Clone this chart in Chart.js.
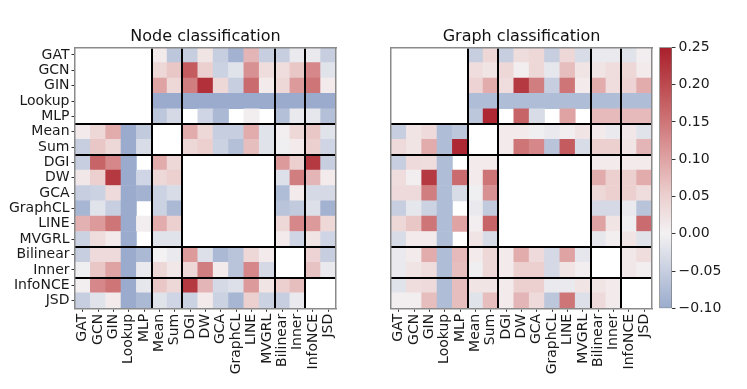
<!DOCTYPE html>
<html><head><meta charset="utf-8">
<script src="https://cdn.jsdelivr.net/npm/chart.js@4.4.0/dist/chart.umd.min.js"></script>
<style>
html,body{margin:0;padding:0;background:#fff;}
#wrap{position:relative;width:747px;height:389px;overflow:hidden;}
canvas{position:absolute;left:0;top:0;}
</style></head><body>
<div id="wrap">
<canvas id="c1" width="747" height="389"></canvas>
<canvas id="c2" width="747" height="389"></canvas>
<canvas id="c3" width="747" height="389"></canvas>
</div>
<script>
// ---------- data ----------
const labels = ['GAT','GCN','GIN','Lookup','MLP','Mean','Sum','DGI','DW','GCA','GraphCL','LINE','MVGRL','Bilinear','Inner','InfoNCE','JSD'];
const groupSizes = [5, 2, 6, 2, 2];
const titles = ['Node classification', 'Graph classification'];
const colorbarTicks = [-0.10, -0.05, 0.00, 0.05, 0.10, 0.15, 0.20, 0.25];
const n = null;

const nodeValues = [
  [n,n,n,n,n, 0.01,-0.06, -0.05,0.02,-0.05,-0.09,0.08,-0.05, -0.05,-0.01, -0.01,-0.05],
  [n,n,n,n,n, 0.04,0.06, 0.18,0.05,-0.045,-0.02,0.12,0.03, 0.03,0.06, 0.13,-0.02],
  [n,n,n,n,n, 0.10,0.04, 0.14,0.23,0.04,-0.05,0.16,0.01, 0.04,0.11, 0.15,0.01],
  [n,n,n,n,n, -0.10,-0.10, -0.10,-0.10,-0.10,-0.10,-0.10,-0.10, -0.10,-0.10, -0.10,-0.10],
  [n,n,n,n,n, -0.06,-0.035, n,-0.04,-0.08,n,0.005,n, -0.07,-0.01, -0.015,-0.07],
  [0.01,0.04,0.09,-0.10,-0.055, n,n, 0.09,0.04,-0.05,-0.05,0.09,-0.02, 0.005,0.04, 0.06,-0.02],
  [-0.05,0.06,0.04,-0.10,-0.03, n,n, 0.04,0.05,-0.045,-0.07,0.07,-0.02, -0.005,0.01, 0.05,-0.04],
  [-0.05,0.17,0.13,-0.10,n, 0.09,0.04, n,n,n,n,n,n, 0.11,0.05, 0.22,-0.05],
  [0.015,0.05,0.22,-0.10,-0.04, 0.04,0.05, n,n,n,n,n,n, -0.025,0.14, 0.08,0.01],
  [-0.05,-0.045,0.035,-0.10,-0.09, -0.045,-0.03, n,n,n,n,n,n, -0.075,0.01, -0.035,-0.035],
  [-0.085,-0.02,-0.05,-0.10,n, -0.045,-0.08, n,n,n,n,n,n, -0.065,-0.055, -0.025,-0.09],
  [0.085,0.11,0.15,-0.10,0.005, 0.09,0.05, n,n,n,n,n,n, 0.04,0.13, 0.11,0.04],
  [-0.045,0.03,0.01,-0.10,n, -0.02,-0.02, n,n,n,n,n,n, 0.01,-0.04, 0.02,-0.04],
  [-0.05,0.035,0.035,-0.10,-0.08, 0.0,-0.01, 0.11,-0.025,-0.08,-0.065,0.04,0.01, n,n, 0.045,-0.05],
  [-0.005,0.06,0.10,-0.10,-0.01, 0.04,0.015, 0.04,0.14,0.01,-0.065,0.13,-0.035, n,n, 0.065,-0.01],
  [0.005,0.13,0.15,-0.10,-0.015, 0.06,0.04, 0.22,0.08,-0.035,-0.025,0.11,0.02, 0.05,0.07, n,n],
  [-0.05,-0.02,0.01,-0.10,-0.08, -0.02,-0.04, -0.045,0.01,-0.045,-0.085,0.05,-0.045, -0.05,-0.01, n,n]
];

const graphValues = [
  [n,n,n,n,n, -0.05,0.04, -0.05,0.03,0.04,-0.05,0.04,-0.03, -0.01,-0.01, -0.02,0.005],
  [n,n,n,n,n, 0.03,0.02, 0.04,0.005,0.04,-0.015,0.07,0.02, 0.02,0.03, 0.04,0.01],
  [n,n,n,n,n, 0.045,0.09, 0.03,0.22,0.14,-0.05,0.15,0.01, 0.09,0.03, 0.045,0.09],
  [n,n,n,n,n, -0.075,-0.075, -0.075,-0.075,-0.075,-0.075,-0.075,-0.075, -0.075,-0.075, -0.075,-0.075],
  [n,n,n,n,n, -0.06,0.24, n,0.17,-0.03,n,0.10,n, 0.075,0.075, 0.075,0.075],
  [-0.05,0.02,0.035,-0.075,-0.06, n,n, 0.01,0.01,-0.005,-0.01,0.005,0.02, 0.01,-0.01, 0.015,-0.02],
  [0.035,0.02,0.09,-0.075,0.24, n,n, 0.01,0.15,0.13,-0.065,0.18,-0.03, 0.05,0.05, 0.02,0.08],
  [-0.05,0.035,0.03,-0.075,n, 0.01,0.01, n,n,n,n,n,n, 0.01,0.01, 0.01,0.01],
  [0.03,0.005,0.22,-0.075,0.16, 0.01,0.15, n,n,n,n,n,n, 0.09,0.05, 0.05,0.09],
  [0.035,0.035,0.14,-0.075,-0.03, -0.005,0.12, n,n,n,n,n,n, 0.04,0.05, 0.05,0.03],
  [-0.05,-0.015,-0.045,-0.075,n, -0.01,-0.055, n,n,n,n,n,n, -0.035,-0.035, -0.01,-0.065],
  [0.04,0.06,0.15,-0.075,0.10, 0.005,0.17, n,n,n,n,n,n, 0.10,0.02, -0.005,0.16],
  [-0.03,0.01,0.01,-0.075,n, 0.02,-0.03, n,n,n,n,n,n, -0.015,0.005, 0.02,-0.02],
  [-0.01,0.01,0.09,-0.075,0.075, 0.01,0.04, 0.01,0.09,0.035,-0.035,0.10,-0.015, n,n, 0.015,0.03],
  [-0.01,0.02,0.03,-0.075,0.07, -0.005,0.04, 0.01,0.05,0.05,-0.035,0.02,0.005, n,n, 0.015,0.005],
  [-0.02,0.03,0.035,-0.075,0.07, 0.02,0.02, 0.01,0.05,0.05,-0.01,-0.01,0.02, 0.02,0.01, n,n],
  [0.005,0.005,0.07,-0.075,0.07, -0.02,0.07, 0.01,0.08,0.035,-0.06,0.15,-0.025, 0.035,0.01, n,n]
];

// ---------- colormap (vlag-like, centred at 0) ----------
const cmapStops = [-0.10, -0.05, 0.00, 0.05, 0.10, 0.15, 0.20, 0.25];
const cmapColors = [[154,171,205],[198,206,224],[243,241,242],[236,208,208],[223,163,164],[206,117,119],[188,74,79],[169,31,44]];
function colorFor(v) {
  if (v <= cmapStops[0]) return 'rgb(' + cmapColors[0].join(',') + ')';
  const last = cmapStops.length - 1;
  if (v >= cmapStops[last]) return 'rgb(' + cmapColors[last].join(',') + ')';
  let i = 0;
  while (v > cmapStops[i + 1]) i++;
  const t = (v - cmapStops[i]) / (cmapStops[i + 1] - cmapStops[i]);
  const a = cmapColors[i], b = cmapColors[i + 1];
  const c = a.map((x, k) => Math.round(x + (b[k] - x) * t));
  return 'rgb(' + c.join(',') + ')';
}

// ---------- helpers ----------
Chart.defaults.font.family = "'DejaVu Sans', sans-serif";
Chart.defaults.font.size = 14;
Chart.defaults.color = '#1a1a1a';
Chart.defaults.animation = false;

const FRAME = '#8a8a8a';
const TICK = '#333333';
const boundaryIdx = [];
(function () { let acc = 0; groupSizes.slice(0, -1).forEach(s => { acc += s; boundaryIdx.push(acc); }); })();
const lastIdx = labels.length - 1;
const blockLine = ctx => boundaryIdx.includes(ctx.index) ? '#000000' : 'rgba(0,0,0,0)';

function cellData(matrix) {
  const out = [];
  matrix.forEach((row, r) => row.forEach((v, c) => {
    if (v !== null) out.push({ x: labels[c], y: [r - 0.5, r + 0.5], v: v });
  }));
  return out;
}

function heatmap(id, matrix, title, padLeft, padRight, showY) {
  return new Chart(document.getElementById(id), {
    type: 'bar',
    data: {
      labels: labels,
      datasets: [{
        data: cellData(matrix),
        backgroundColor: c => (c.raw && c.raw.v !== undefined) ? colorFor(c.raw.v) : 'rgba(0,0,0,0)',
        borderWidth: 0,
        barPercentage: 1,
        categoryPercentage: 1,
        grouped: false
      }]
    },
    options: {
      responsive: false,
      animation: false,
      events: [],
      layout: { padding: { left: padLeft, right: padRight, top: 0, bottom: 0 } },
      plugins: {
        legend: { display: false },
        tooltip: { enabled: false },
        title: {
          display: true, text: title, fullSize: false,
          font: { size: 16, weight: 'normal' }, color: '#111',
          padding: { top: 27.4, bottom: 0.7 }
        }
      },
      scales: {
        x: {
          type: 'category', position: 'bottom', offset: true,
          grid: { display: true, offset: false, drawOnChartArea: false, drawTicks: true, tickLength: 3.5, tickColor: TICK, tickWidth: 1 },
          border: { display: true, color: FRAME, width: 1.5, z: 2 },
          ticks: { autoSkip: false, maxRotation: 90, minRotation: 90, padding: 2 },
          afterFit: s => { s.height = 80.7; }
        },
        y: {
          type: 'linear', position: 'left', reverse: true, min: -0.5, max: lastIdx + 0.5,
          afterBuildTicks: s => { s.ticks = labels.map((_, i) => ({ value: i })); },
          ticks: { display: showY, autoSkip: false, callback: v => labels[v], padding: 2 },
          grid: { display: true, drawOnChartArea: false, drawTicks: showY, tickLength: 3.5, tickColor: TICK, tickWidth: 1 },
          border: { display: true, color: FRAME, width: 1.5, z: 2 },
          afterFit: s => { s.width = showY ? 75 : 0; }
        },
        xb: {
          type: 'category', position: 'top', offset: true,
          ticks: { display: false, autoSkip: false },
          grid: { offset: true, color: blockLine, lineWidth: 2, drawTicks: false, z: 1 },
          border: { display: true, color: FRAME, width: 1.5, z: 2 },
          afterFit: s => { s.height = 0; }
        },
        yb: {
          type: 'category', position: 'right', offset: true,
          ticks: { display: false, autoSkip: false },
          grid: { offset: true, color: blockLine, lineWidth: 2, drawTicks: false, z: 1 },
          border: { display: true, color: FRAME, width: 1.5, z: 2 },
          afterFit: s => { s.width = 0; }
        }
      }
    }
  });
}

heatmap('c1', nodeValues, titles[0], 0, 411, true);
heatmap('c2', graphValues, titles[1], 391, 95, false);

// ---------- colorbar ----------
const cbLo = colorbarTicks[0], cbHi = colorbarTicks[colorbarTicks.length - 1];
new Chart(document.getElementById('c3'), {
  type: 'bar',
  data: {
    labels: [''],
    datasets: [{
      data: [[cbLo, cbHi]],
      backgroundColor: ctx => {
        const ch = ctx.chart, ys = ch.scales.y;
        if (!ch.chartArea || !ys) return '#ffffff';
        const y0 = ys.getPixelForValue(cbLo), y1 = ys.getPixelForValue(cbHi);
        const g = ch.ctx.createLinearGradient(0, y0, 0, y1);
        for (let k = 0; k <= 70; k++) {
          const t = k / 70;
          g.addColorStop(t, colorFor(cbLo + t * (cbHi - cbLo)));
        }
        return g;
      },
      borderColor: '#777',
      borderWidth: 1,
      borderSkipped: false,
      barPercentage: 1,
      categoryPercentage: 1
    }]
  },
  options: {
    responsive: false,
    animation: false,
    events: [],
    layout: { padding: { left: 659.3, right: 0, top: 47.3, bottom: 80.7 } },
    plugins: { legend: { display: false }, tooltip: { enabled: false }, title: { display: false } },
    scales: {
      x: { display: false },
      y: {
        position: 'right', min: cbLo, max: cbHi,
        afterBuildTicks: s => { s.ticks = colorbarTicks.map(v => ({ value: v })); },
        ticks: { padding: 3, callback: v => (v < -1e-9 ? '\u2212' : '') + Math.abs(v).toFixed(2) },
        grid: { drawOnChartArea: false, drawTicks: true, tickLength: 3.5, tickColor: TICK, tickWidth: 1 },
        border: { display: false },
        afterFit: s => { s.width = 75; }
      }
    }
  }
});
</script>
</body></html>
